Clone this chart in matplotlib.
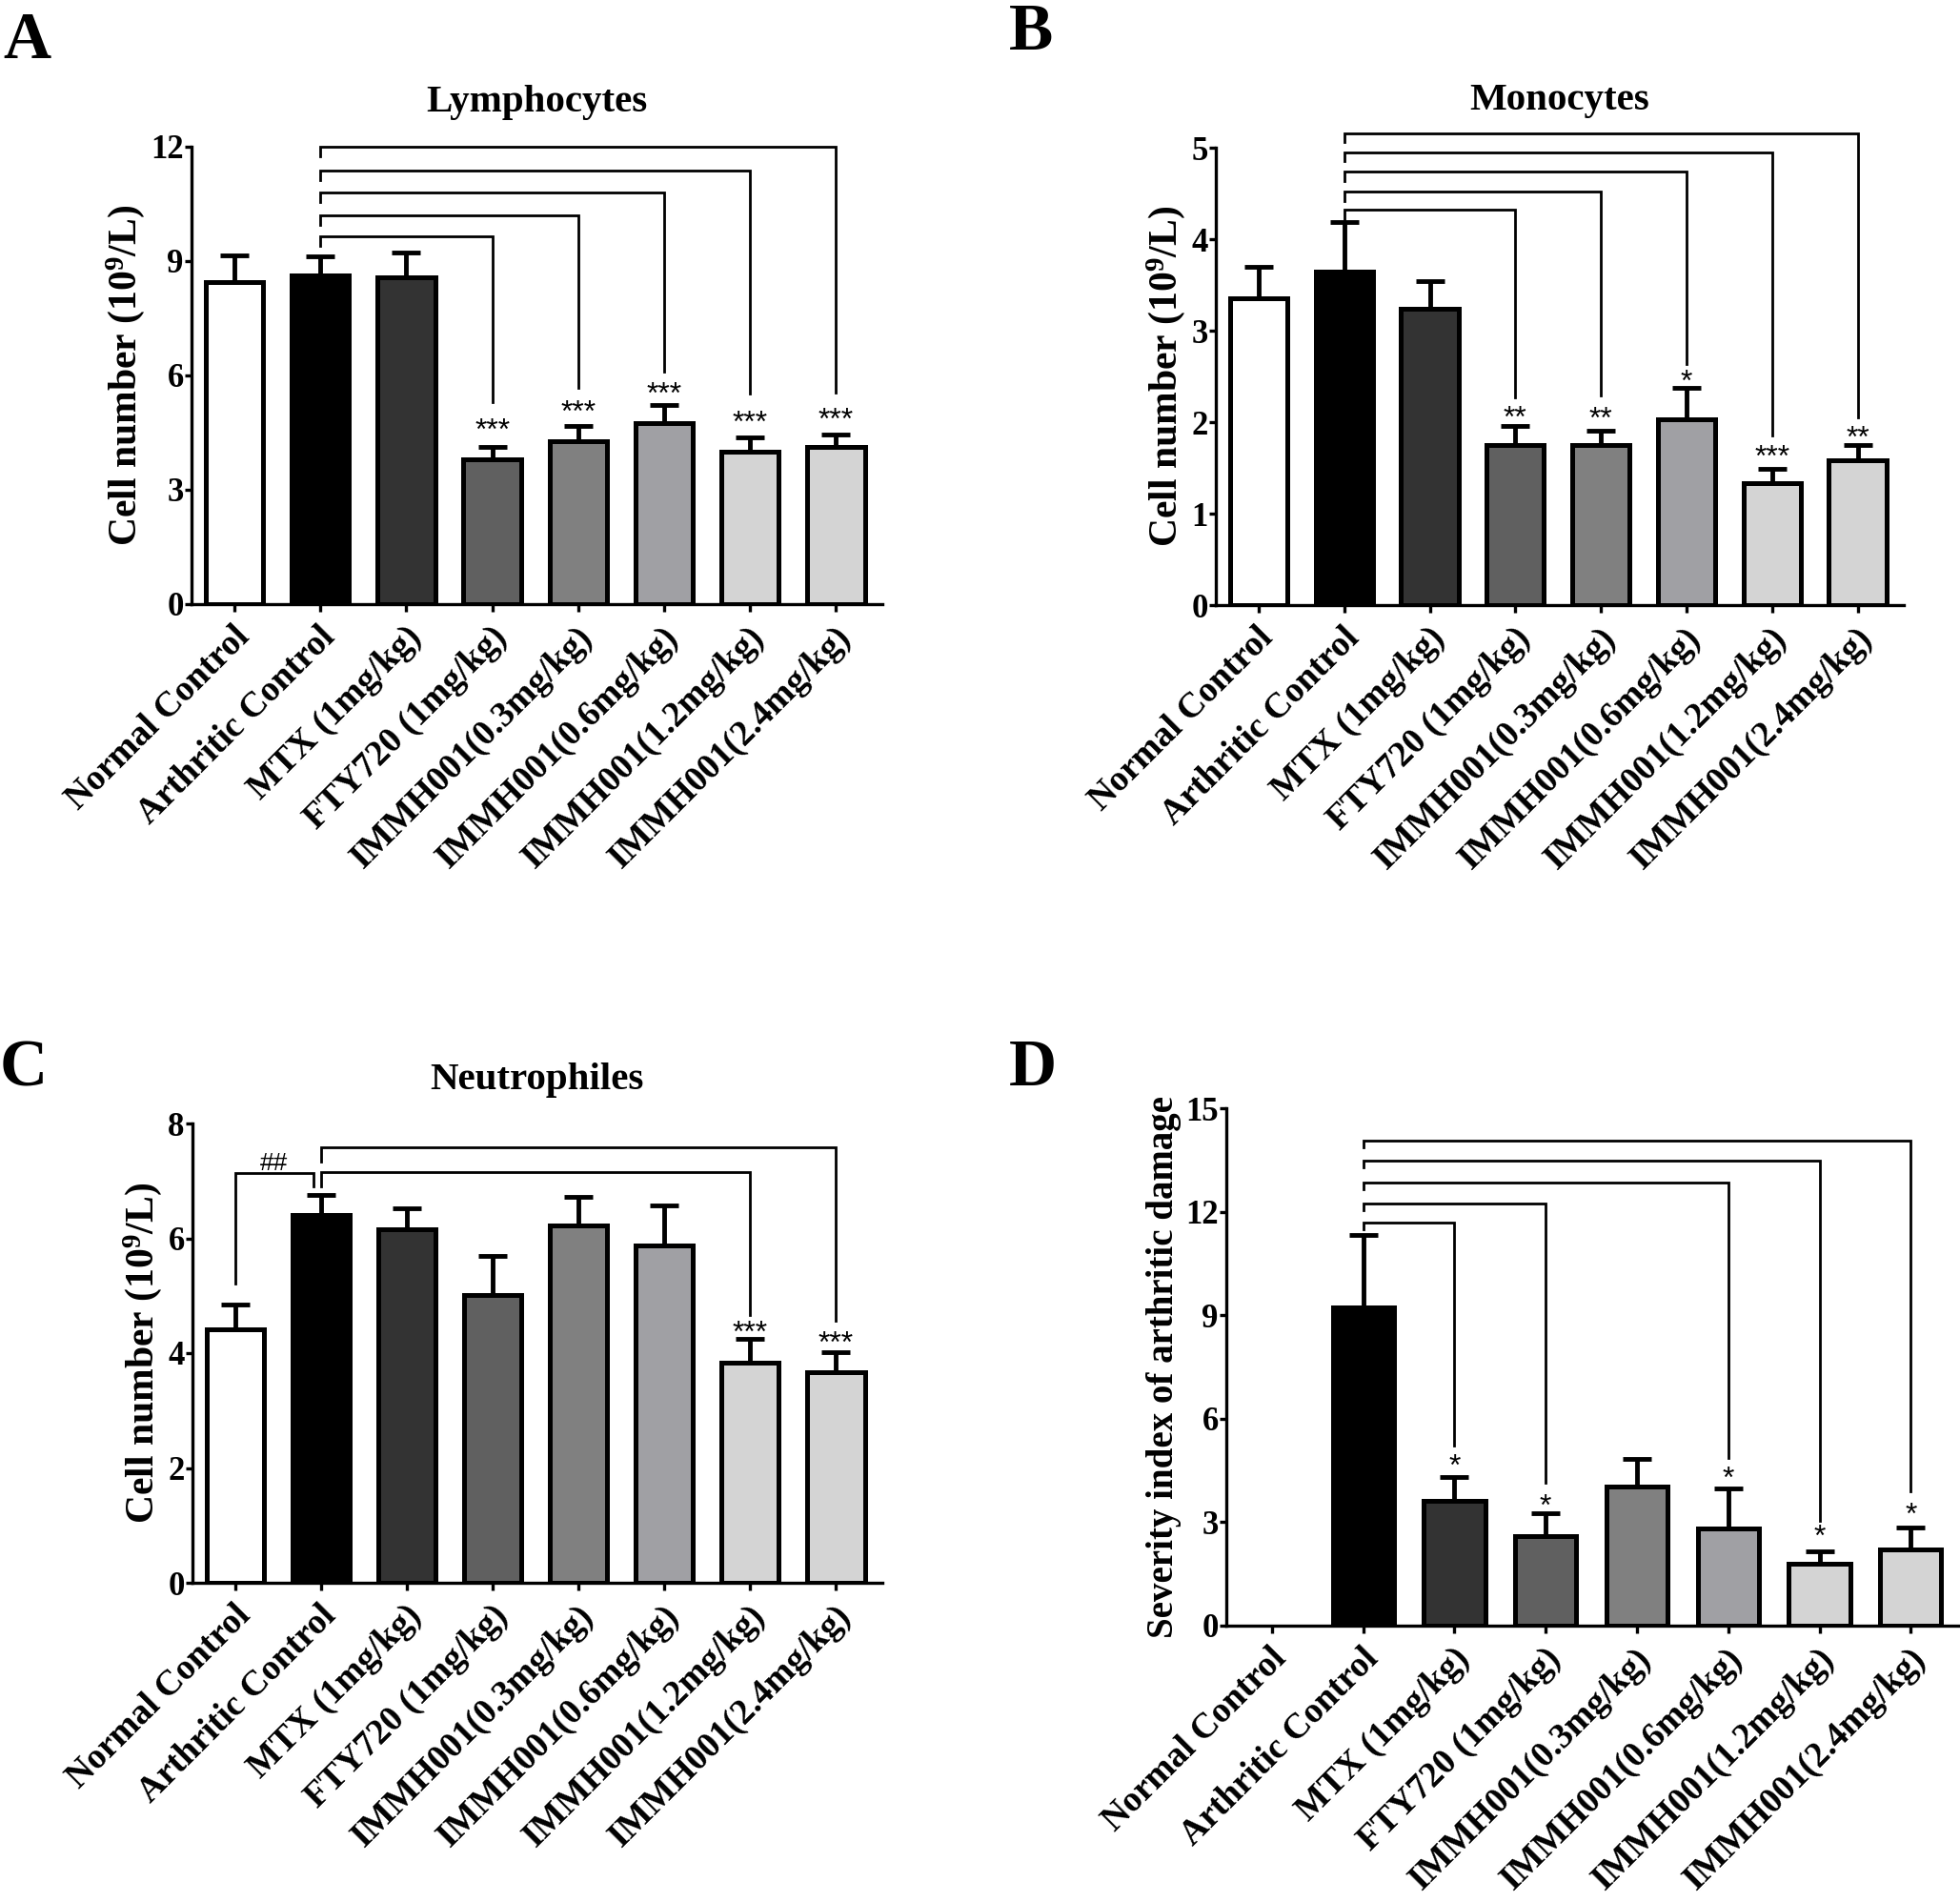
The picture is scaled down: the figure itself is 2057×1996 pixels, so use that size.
import numpy as np
import matplotlib
matplotlib.use("Agg")
import matplotlib.pyplot as plt
from matplotlib.transforms import offset_copy, ScaledTranslation

plt.rcParams['font.family'] = ['Liberation Serif', 'DejaVu Serif']
plt.rcParams['mathtext.fontset'] = 'custom'
plt.rcParams['mathtext.rm'] = 'Liberation Serif:bold'
plt.rcParams['mathtext.bf'] = 'Liberation Serif:bold'
plt.rcParams['mathtext.it'] = 'Liberation Serif:bold:italic'

W, H, DPI = 2057, 1996, 100

# ---------------- data ----------------
groups = ["Normal Control", "Arthritic Control", "MTX (1mg/kg)", "FTY720 (1mg/kg)",
          "IMMH001(0.3mg/kg)", "IMMH001(0.6mg/kg)", "IMMH001(1.2mg/kg)", "IMMH001(2.4mg/kg)"]
bar_colors = ["#ffffff", "#000000", "#333333", "#606060", "#808080", "#a0a0a4", "#d4d4d4", "#d4d4d4"]

lymph_mean = [8.45, 8.62, 8.57, 3.80, 4.28, 4.75, 4.00, 4.12]
lymph_err = [0.71, 0.51, 0.65, 0.33, 0.40, 0.47, 0.38, 0.34]
mono_mean = [3.35, 3.65, 3.24, 1.75, 1.75, 2.03, 1.33, 1.58]
mono_err = [0.35, 0.54, 0.30, 0.21, 0.16, 0.34, 0.16, 0.17]
neut_mean = [4.42, 6.41, 6.15, 5.02, 6.22, 5.88, 3.84, 3.66]
neut_err = [0.43, 0.35, 0.38, 0.68, 0.50, 0.70, 0.41, 0.36]
sev_mean = [0.0, 9.22, 3.62, 2.61, 4.04, 2.82, 1.80, 2.22]
sev_err = [0.0, 2.10, 0.69, 0.66, 0.79, 1.17, 0.36, 0.62]

lymph_ticks = [0, 3, 6, 9, 12]
mono_ticks = [0, 1, 2, 3, 4, 5]
neut_ticks = [0, 2, 4, 6, 8]
sev_ticks = [0, 3, 6, 9, 12, 15]

# significance brackets: start group, end group, line height, left-leg end, right-leg end, label, label centre
lymph_sig_start = [1, 1, 1, 1, 1]
lymph_sig_end = [3, 4, 5, 6, 7]
lymph_sig_line = [9.64, 10.20, 10.81, 11.37, 12.00]
lymph_sig_left = [9.39, 9.95, 10.56, 11.12, 11.75]
lymph_sig_right = [5.31, 5.68, 6.10, 5.52, 5.56]
lymph_sig_text = ["***", "***", "***", "***", "***"]
lymph_sig_text_y = [4.78, 5.25, 5.73, 4.98, 5.04]

mono_sig_start = [1, 1, 1, 1, 1]
mono_sig_end = [3, 4, 5, 6, 7]
mono_sig_line = [4.32, 4.52, 4.74, 4.95, 5.16]
mono_sig_left = [4.22, 4.42, 4.64, 4.85, 5.06]
mono_sig_right = [2.27, 2.29, 2.64, 1.85, 2.05]
mono_sig_text = ["**", "**", "*", "***", "**"]
mono_sig_text_y = [2.14, 2.12, 2.53, 1.71, 1.92]

neut_sig_start = [0, 1, 1]
neut_sig_end = [0.91, 6, 7]
neut_sig_line = [7.14, 7.16, 7.59]
neut_sig_left = [5.21, 6.90, 7.34]
neut_sig_right = [6.90, 4.67, 4.56]
neut_sig_text = ["##", "***", "***"]
neut_sig_text_x = [0.45, 6, 7]
neut_sig_text_y = [7.34, 4.49, 4.31]

sev_sig_start = [1, 1, 1, 1, 1]
sev_sig_end = [2, 3, 5, 6, 7]
sev_sig_line = [11.68, 12.25, 12.85, 13.48, 14.07]
sev_sig_left = [11.48, 12.05, 12.65, 13.28, 13.87]
sev_sig_right = [5.21, 4.13, 4.85, 3.05, 3.89]
sev_sig_text = ["*", "*", "*", "*", "*"]
sev_sig_text_y = [4.85, 3.71, 4.49, 2.82, 3.45]

ylabel_cells = r"Cell number (10$^{9}$/L)"
ylabel_sev = "Severity index of arthritic damage"

# ---------------- figure ----------------
fig = plt.figure(figsize=(W / DPI, H / DPI), dpi=DPI)
fig.patch.set_facecolor("white")


def px_rect(l, t, r, b):
    return [l / W, 1 - b / H, (r - l) / W, (b - t) / H]


def draw_panel(rect, means, errs, ticks, ylabel, ylabel_size,
               s_start, s_end, s_line, s_left, s_right, s_text, s_text_y, s_text_x=None):
    ax = fig.add_axes(px_rect(*rect))
    x = np.arange(len(groups))
    m = np.array(means)
    e = np.array(errs)
    show = m > 0
    ax.bar(x[show], m[show], width=0.67, color=np.array(bar_colors)[show],
           edgecolor="black", linewidth=3.6, zorder=3)
    ax.errorbar(x[show], m[show], yerr=[np.zeros(show.sum()), e[show]], fmt="none",
                ecolor="black", elinewidth=3.5, capsize=10.8, capthick=3.5, zorder=2)
    ax.set_xlim(-0.5, 7.54)
    ax.set_ylim(0, ticks[-1])
    ax.set_yticks(ticks)
    ax.set_yticklabels([str(t) for t in ticks], fontsize=25, fontweight="bold")
    ax.set_xticks(x)
    ax.set_xticklabels(groups, fontsize=27, fontweight="bold", rotation=45,
                       ha="right", va="center", rotation_mode="anchor")
    ax.tick_params(axis="x", length=6, width=2.4, pad=15)
    ax.tick_params(axis="y", length=5, width=2.4, pad=1)
    shift = ScaledTranslation(10 / DPI, 0, fig.dpi_scale_trans)
    for lab in ax.get_xticklabels():
        lab.set_transform(lab.get_transform() + shift)
    for s in ["top", "right"]:
        ax.spines[s].set_visible(False)
    for s in ["left", "bottom"]:
        ax.spines[s].set_linewidth(2.4)
    ax.set_ylabel(ylabel, fontsize=ylabel_size, fontweight="bold", labelpad=3)

    for i in range(len(s_start)):
        x0, x1 = s_start[i], s_end[i]
        ax.plot([x0, x0, x1, x1], [s_left[i], s_line[i], s_line[i], s_right[i]],
                color="black", lw=2.0, clip_on=False, solid_joinstyle="miter", zorder=4)
        tx = s_end[i] if s_text_x is None else s_text_x[i]
        if "*" in s_text[i]:
            fs = 23
            off = -0.56 * fs
        else:
            fs = 19
            off = -0.34 * fs
        tr = offset_copy(ax.transData, fig=fig, y=off, units="points")
        ax.text(tx, s_text_y[i], s_text[i], fontsize=fs, ha="center", va="baseline",
                family=["Liberation Sans", "DejaVu Sans"], transform=tr, clip_on=False)
    return ax


draw_panel((201, 154, 926, 634), lymph_mean, lymph_err, lymph_ticks, ylabel_cells, 30,
           lymph_sig_start, lymph_sig_end, lymph_sig_line, lymph_sig_left, lymph_sig_right,
           lymph_sig_text, lymph_sig_text_y)
draw_panel((1276, 155, 1998, 635), mono_mean, mono_err, mono_ticks, ylabel_cells, 30,
           mono_sig_start, mono_sig_end, mono_sig_line, mono_sig_left, mono_sig_right,
           mono_sig_text, mono_sig_text_y)
draw_panel((202, 1179, 926, 1661), neut_mean, neut_err, neut_ticks, ylabel_cells, 30,
           neut_sig_start, neut_sig_end, neut_sig_line, neut_sig_left, neut_sig_right,
           neut_sig_text, neut_sig_text_y, neut_sig_text_x)
draw_panel((1287, 1163, 2057, 1706), sev_mean, sev_err, sev_ticks, ylabel_sev, 28,
           sev_sig_start, sev_sig_end, sev_sig_line, sev_sig_left, sev_sig_right,
           sev_sig_text, sev_sig_text_y)

# titles
for txt, cx, base in [("Lymphocytes", 563, 117), ("Monocytes", 1637, 115), ("Neutrophiles", 563, 1143)]:
    fig.text(cx / W, 1 - base / H, txt, fontsize=29.5, fontweight="bold",
             ha="center", va="baseline")

# panel letters
for txt, lx, base in [("A", 3, 61), ("B", 1059, 52), ("C", 0, 1139), ("D", 1059, 1139)]:
    fig.text(lx / W, 1 - base / H, txt, fontsize=50, fontweight="bold",
             ha="left", va="baseline")

fig.savefig("out.png", dpi=DPI, facecolor="white")
